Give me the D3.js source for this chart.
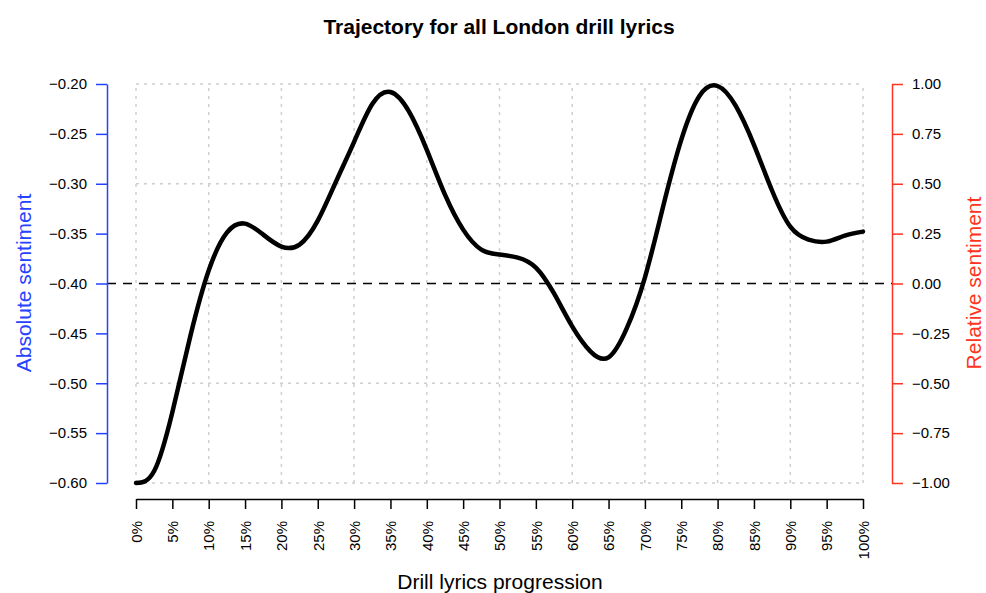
<!DOCTYPE html>
<html>
<head>
<meta charset="utf-8">
<script src="https://cdnjs.cloudflare.com/ajax/libs/d3/7.8.5/d3.min.js"></script>
<style>
  body { margin: 0; background: #fff; }
  svg { font-family: "Liberation Sans", Arial, sans-serif; }
</style>
</head>
<body>
<svg id="chart" width="986" height="593"></svg>
<script>
// progression (%) and absolute sentiment, every 2.5%
var progress = d3.range(0, 100.1, 2.5);
var sentiment = [-0.600, -0.588, -0.529, -0.452, -0.387, -0.349, -0.340, -0.351, -0.363, -0.361,
                 -0.337, -0.298, -0.258, -0.220, -0.208, -0.227, -0.266, -0.311, -0.346, -0.366,
                 -0.371, -0.374, -0.384, -0.410, -0.443, -0.468, -0.474, -0.445, -0.394, -0.323,
                 -0.256, -0.212, -0.202, -0.222, -0.261, -0.307, -0.343, -0.356, -0.358, -0.352,
                 -0.348];
var absTicks = [-0.60, -0.55, -0.50, -0.45, -0.40, -0.35, -0.30, -0.25, -0.20];
var relTicks = [-1.00, -0.75, -0.50, -0.25, 0.00, 0.25, 0.50, 0.75, 1.00];
var xTicks = d3.range(0, 101, 5);
var xGrid = d3.range(0, 101, 10);
var yGrid = [-0.60, -0.50, -0.30, -0.20];
var baseline = -0.40;

var svg = d3.select("#chart");
var blue = "#2442ff", red = "#ff3320";

var xscale = d3.scaleLinear().domain([0, 100]).range([136, 863]);
var yscale = d3.scaleLinear().domain([-0.60, -0.20]).range([483, 84]);
var yrel = d3.scaleLinear().domain([-1, 1]).range([483, 84]);

// grid (dotted light gray)
svg.append("g").selectAll("line").data(xGrid).enter().append("line")
    .attr("x1", function(d) { return xscale(d); })
    .attr("x2", function(d) { return xscale(d); })
    .attr("y1", yscale(-0.60)).attr("y2", yscale(-0.20))
    .attr("stroke", "#cfcfcf").attr("stroke-width", 1.5).attr("stroke-dasharray", "3,5");
svg.append("g").selectAll("line").data(yGrid).enter().append("line")
    .attr("x1", xscale(0)).attr("x2", xscale(100))
    .attr("y1", function(d) { return yscale(d); })
    .attr("y2", function(d) { return yscale(d); })
    .attr("stroke", "#cfcfcf").attr("stroke-width", 1.5).attr("stroke-dasharray", "3,5");

// zero relative line
svg.append("line")
    .attr("x1", 107).attr("x2", 892)
    .attr("y1", yscale(baseline)).attr("y2", yscale(baseline))
    .attr("stroke", "#000").attr("stroke-width", 1.5).attr("stroke-dasharray", "9,7");

// left axis
var left = svg.append("g").attr("transform", "translate(107,0)")
    .call(d3.axisLeft(yscale).tickValues(absTicks).tickFormat(d3.format(".2f")).tickSize(11).tickPadding(9).tickSizeOuter(0));
left.select(".domain").attr("stroke", blue).attr("stroke-width", 1.5);
left.selectAll(".tick line").attr("stroke", blue).attr("stroke-width", 1.5);
left.selectAll("text").attr("fill", "#000").style("font-size", "15px");

// right axis
var right = svg.append("g").attr("transform", "translate(892,0)")
    .call(d3.axisRight(yrel).tickValues(relTicks).tickFormat(d3.format(".2f")).tickSize(11).tickPadding(9).tickSizeOuter(0));
right.select(".domain").attr("stroke", red).attr("stroke-width", 1.5);
right.selectAll(".tick line").attr("stroke", red).attr("stroke-width", 1.5);
right.selectAll("text").attr("fill", "#000").style("font-size", "15px");

// bottom axis
var bottom = svg.append("g").attr("transform", "translate(0,499)")
    .call(d3.axisBottom(xscale).tickValues(xTicks).tickFormat(function(d) { return d + "%"; }).tickSize(10).tickSizeOuter(0));
bottom.select(".domain").attr("stroke", "#000").attr("stroke-width", 1.5);
bottom.selectAll(".tick line").attr("stroke", "#000").attr("stroke-width", 1.5);
bottom.selectAll("text")
    .attr("fill", "#000").style("font-size", "15px")
    .attr("transform", "rotate(-90)")
    .attr("x", -22).attr("y", 0).attr("dy", "0.35em")
    .style("text-anchor", "end");

// curve
var line = d3.line()
    .x(function(d, i) { return xscale(progress[i]); })
    .y(function(d) { return yscale(d); })
    .curve(d3.curveNatural);
svg.append("path").datum(sentiment)
    .attr("d", line)
    .attr("fill", "none").attr("stroke", "#000").attr("stroke-width", 4.5)
    .attr("stroke-linecap", "round").attr("stroke-linejoin", "round");

// titles
svg.append("text").attr("x", 499).attr("y", 34).attr("text-anchor", "middle")
    .style("font-size", "21px").style("font-weight", "bold").text("Trajectory for all London drill lyrics");
svg.append("text").attr("x", 500).attr("y", 589).attr("text-anchor", "middle")
    .style("font-size", "21px").text("Drill lyrics progression");
svg.append("text").attr("transform", "translate(31,283) rotate(-90)").attr("text-anchor", "middle")
    .attr("fill", blue).style("font-size", "21px").text("Absolute sentiment");
svg.append("text").attr("transform", "translate(981,283) rotate(-90)").attr("text-anchor", "middle")
    .attr("fill", red).style("font-size", "21px").text("Relative sentiment");
</script>
</body>
</html>
